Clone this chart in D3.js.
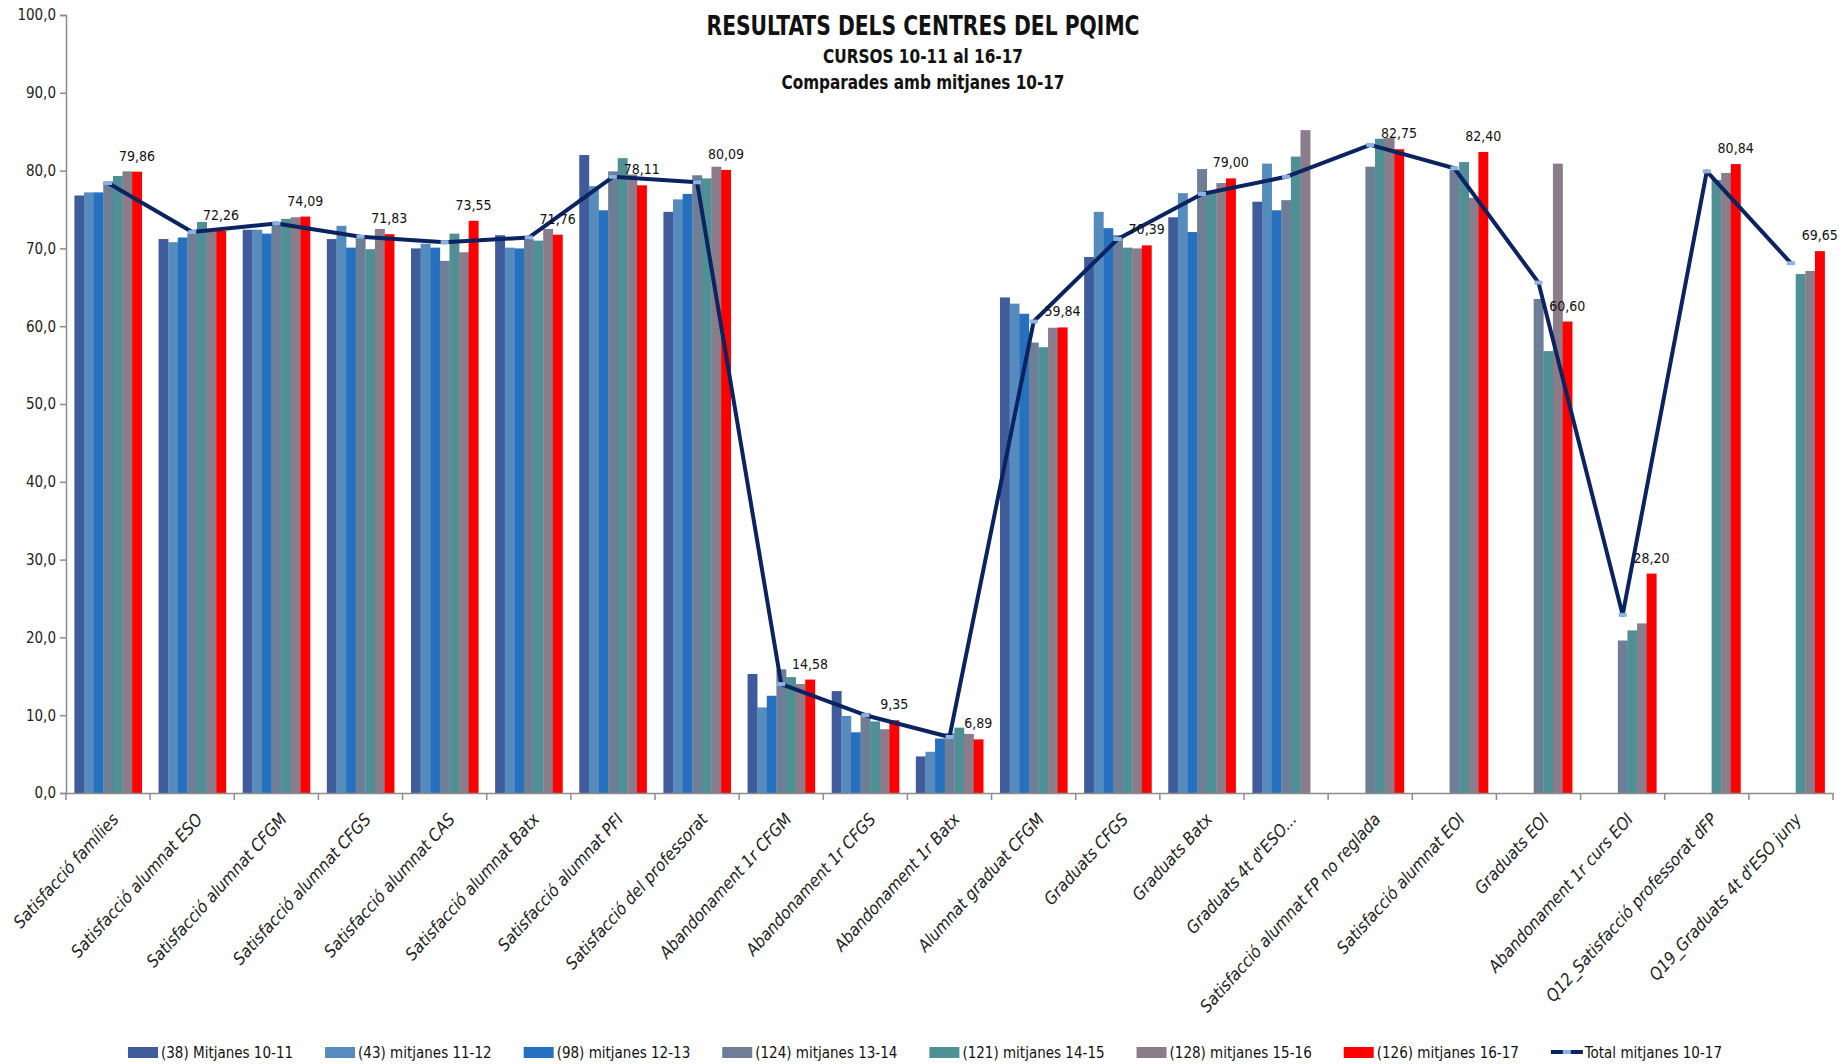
<!DOCTYPE html>
<html>
<head>
<meta charset="utf-8">
<script src="https://cdn.jsdelivr.net/npm/d3@7"></script>
<style>
  body { margin: 0; background: #fff; }
  svg { display: block; font-family: "DejaVu Sans Condensed", "DejaVu Sans", sans-serif; }
</style>
</head>
<body>
<svg id="chart"></svg>
<script>
// Categories (x axis)
const categories = [
  "Satisfacció famílies",
  "Satisfacció alumnat ESO",
  "Satisfacció alumnat CFGM",
  "Satisfacció alumnat CFGS",
  "Satisfacció alumnat CAS",
  "Satisfacció alumnat Batx",
  "Satisfacció alumnat PFI",
  "Satisfacció del professorat",
  "Abandonament 1r CFGM",
  "Abandonament 1r CFGS",
  "Abandonament 1r Batx",
  "Alumnat graduat CFGM",
  "Graduats CFGS",
  "Graduats Batx",
  "Graduats 4t d'ESO...",
  "Satisfacció alumnat FP no reglada",
  "Satisfacció alumnat EOI",
  "Graduats EOI",
  "Abandonament 1r curs EOI",
  "Q12_Satisfacció professorat dFP",
  "Q19_Graduats 4t d'ESO juny"
];

const seriesNames = [
  "(38) Mitjanes 10-11",
  "(43) mitjanes 11-12",
  "(98) mitjanes 12-13",
  "(124) mitjanes 13-14",
  "(121) mitjanes 14-15",
  "(128) mitjanes 15-16",
  "(126) mitjanes 16-17"
];
const lineName = "Total mitjanes 10-17";

// Series values (null = no data)
const m1011 = [76.8, 71.2, 72.4, 71.2, 70.0, 71.7, 82.0, 74.7, 15.3, 13.1, 4.7, 63.7, 68.9, 74.0, 76.0, null, null, null, null, null, null];
const m1112 = [77.2, 70.8, 72.4, 72.9, 70.6, 70.1, 78.0, 76.3, 11.0, 9.9, 5.3, 62.9, 74.7, 77.1, 80.9, null, null, null, null, null, null];
const m1213 = [77.2, 71.4, 71.9, 70.1, 70.1, 70.0, 74.9, 77.0, 12.5, 7.8, 7.0, 61.6, 72.6, 72.1, 74.9, null, null, null, null, null, null];
const m1314 = [78.6, 72.0, 72.9, 71.4, 68.4, 71.2, 79.9, 79.4, 15.9, 10.3, 7.7, 57.9, 71.7, 80.2, 76.2, 80.5, 80.1, 63.5, 19.6, null, null];
const m1415 = [79.3, 73.4, 73.8, 69.9, 71.9, 71.0, 81.6, 79.0, 14.9, 9.2, 8.4, 57.3, 70.1, 77.3, 81.8, 84.1, 81.1, 56.8, 20.9, 78.8, 66.7];
const m1516 = [79.9, 72.4, 74.0, 72.5, 69.5, 72.5, 79.5, 80.5, 14.0, 8.2, 7.6, 59.8, 70.0, 78.4, 85.2, 84.2, 76.5, 80.9, 21.8, 79.7, 67.1];
const m1617 = [79.86, 72.26, 74.09, 71.83, 73.55, 71.76, 78.11, 80.09, 14.58, 9.35, 6.89, 59.84, 70.39, 79.00, null, 82.75, 82.40, 60.60, 28.20, 80.84, 69.65];
const total = [78.4, 72.1, 73.2, 71.5, 70.8, 71.4, 79.2, 78.5, 14.0, 10.0, 7.2, 60.6, 71.2, 77.0, 79.2, 83.3, 80.3, 65.6, 22.9, 79.9, 68.1];

const yTicks = [0, 10, 20, 30, 40, 50, 60, 70, 80, 90, 100];

const seriesValues = [m1011, m1112, m1213, m1314, m1415, m1516, m1617];
const colors = ["#3f5b9b", "#568bbe", "#2571c0", "#6e7e96", "#4f8f96", "#8a7c8a", "#ff0000"];
const lineColor = "#0b2360";
const markerColor = "#8db3e2";

const width = 1841;
const height = 1064;
const svg = d3.select("#chart")
  .attr("width", width)
  .attr("height", height);

const fmt = v => d3.format(".1f")(v).replace(".", ",");
const fmt2 = v => d3.format(".2f")(v).replace(".", ",");

// scales
const x0 = d3.scaleBand().domain(categories).range([66, 1833]);
const x1 = d3.scaleBand().domain(d3.range(seriesNames.length))
  .range([x0.bandwidth() * 0.1, x0.bandwidth() * 0.9]);
const y = d3.scaleLinear().domain([0, 100]).range([793, 15]);

// title
const titles = [
  { text: "RESULTATS DELS CENTRES DEL PQIMC", y: 35, size: 27, len: 433 },
  { text: "CURSOS 10-11 al 16-17", y: 63, size: 20, len: 200 },
  { text: "Comparades amb mitjanes 10-17", y: 89, size: 20, len: 283 }
];
svg.selectAll(".title")
  .data(titles)
  .enter()
  .append("text")
  .attr("x", 923)
  .attr("y", d => d.y)
  .attr("text-anchor", "middle")
  .attr("font-weight", "bold")
  .attr("font-size", d => d.size)
  .attr("textLength", d => d.len)
  .attr("lengthAdjust", "spacingAndGlyphs")
  .attr("fill", "#111")
  .text(d => d.text);

// bars
const groups = svg.append("g")
  .selectAll("g")
  .data(categories)
  .enter()
  .append("g")
  .attr("transform", d => `translate(${x0(d)},0)`);

groups.selectAll("rect")
  .data((d, i) => seriesValues.map((s, j) => ({ j, v: s[i] })).filter(e => e.v != null))
  .enter()
  .append("rect")
  .attr("x", d => x1(d.j))
  .attr("width", x1.bandwidth() + 0.3)
  .attr("y", d => y(d.v))
  .attr("height", d => y(0) - y(d.v))
  .attr("fill", d => colors[d.j]);

// axes
const yAxis = svg.append("g")
  .attr("transform", "translate(66,0)")
  .call(d3.axisLeft(y).tickValues(yTicks).tickFormat(fmt).tickSize(6).tickPadding(4));
yAxis.selectAll("text").attr("font-size", 15).attr("fill", "#222")
  .attr("font-family", "DejaVu Sans Condensed, DejaVu Sans, sans-serif");

const xAxis = svg.append("g")
  .attr("transform", `translate(0,${y(0)})`)
  .call(d3.axisBottom(x0).tickSize(0).tickFormat(""));

svg.selectAll(".domain").attr("stroke", "#8c8c8c").attr("stroke-width", 1.5);
yAxis.selectAll(".tick line").attr("stroke", "#8c8c8c").attr("stroke-width", 1.5);

// category boundary ticks
const bounds = categories.map(c => x0(c)).concat([x0.range()[1]]);
svg.append("g")
  .selectAll("line")
  .data(bounds)
  .enter()
  .append("line")
  .attr("x1", d => d).attr("x2", d => d)
  .attr("y1", y(0)).attr("y2", y(0) + 7)
  .attr("stroke", "#8c8c8c")
  .attr("stroke-width", 1.5);

// rotated category labels
svg.append("g")
  .selectAll("text")
  .data(categories)
  .enter()
  .append("text")
  .attr("transform", d => `translate(${x0(d) + x0.bandwidth() / 2 + 7},${y(0) + 23}) rotate(-48)`)
  .attr("dy", "0.35em")
  .attr("text-anchor", "end")
  .attr("font-size", 17)
  .attr("font-style", "italic")
  .attr("fill", "#222")
  .text(d => d);

// total line
const cx = i => x0(categories[i]) + x0.bandwidth() / 2;
const line = d3.line()
  .x((d, i) => cx(i))
  .y(d => y(d));

svg.append("path")
  .datum(total)
  .attr("d", line)
  .attr("fill", "none")
  .attr("stroke", lineColor)
  .attr("stroke-width", 4)
  .attr("stroke-linejoin", "round");

svg.append("g")
  .selectAll("rect")
  .data(total)
  .enter()
  .append("rect")
  .attr("x", (d, i) => cx(i) - 4)
  .attr("y", d => y(d) - 2)
  .attr("width", 8)
  .attr("height", 4)
  .attr("fill", markerColor);

// data labels on 16-17 series
svg.append("g")
  .selectAll("text")
  .data(m1617.map((v, i) => ({ v, i })).filter(d => d.v != null))
  .enter()
  .append("text")
  .attr("x", d => x0(categories[d.i]) + x1(6) + x1.bandwidth() / 2)
  .attr("y", d => y(d.v) - 11)
  .attr("text-anchor", "middle")
  .attr("font-size", 14)
  .attr("fill", "#111")
  .text(d => fmt2(d.v));

// legend
const legend = svg.append("g");
const legendItems = seriesNames.map((n, j) => ({ name: n, color: colors[j], type: "bar" }))
  .concat([{ name: lineName, color: lineColor, type: "line" }]);

let lx = 0;
const legendY = 1052;
legendItems.forEach(item => {
  const g = legend.append("g").attr("transform", `translate(${lx},0)`);
  if (item.type === "bar") {
    g.append("rect")
      .attr("x", 0).attr("y", legendY - 5)
      .attr("width", 30).attr("height", 11)
      .attr("fill", item.color);
  } else {
    g.append("line")
      .attr("x1", 0).attr("x2", 32)
      .attr("y1", legendY).attr("y2", legendY)
      .attr("stroke", item.color).attr("stroke-width", 4);
    g.append("rect")
      .attr("x", 12).attr("y", legendY - 2)
      .attr("width", 8).attr("height", 4)
      .attr("fill", markerColor);
  }
  const t = g.append("text")
    .attr("x", item.type === "bar" ? 33 : 34)
    .attr("y", legendY + 6)
    .attr("font-size", 15)
    .attr("fill", "#111")
    .text(item.name);
  lx += (item.type === "bar" ? 33 : 34) + t.node().getComputedTextLength() + 32;
});
const legendW = lx - 32;
legend.attr("transform", `translate(${925 - legendW / 2},0)`);
</script>
</body>
</html>
